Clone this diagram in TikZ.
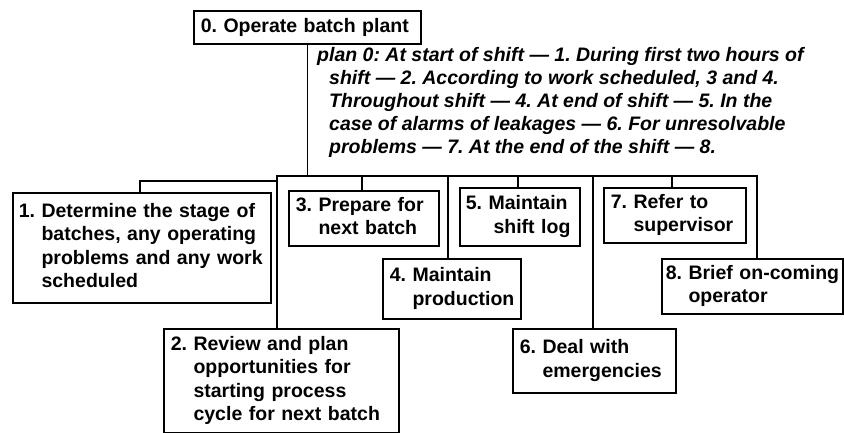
\documentclass[tikz,border=0pt]{standalone}
\usepackage{fontspec}
\setmainfont{Liberation Sans}
\frenchspacing
\newcommand\taskfont{\fontsize{19.5}{23.5}\selectfont\bfseries}
\newcommand\planfont{\fontsize{19.5}{23}\selectfont\bfseries\itshape}
% numbered task text with the continuation lines hung under the first word
\newcommand\tasktext[2]{\begin{tabular}{@{}l@{}l@{}}\mbox{#1.\ } & #2\end{tabular}}
\begin{document}
\begin{tikzpicture}[x=1pt,y=-1pt,
  task/.style={draw, line width=1.6pt, anchor=north west, inner xsep=7pt,
    inner ysep=0pt, font=\taskfont, align=left},
  plantext/.style={anchor=north west, inner sep=0pt, font=\planfont, align=left},
  link/.style={line width=1.6pt, line cap=rect},
]
\useasboundingbox (0,0) rectangle (844,433);

% top task
\node[task, text width=213pt, minimum height=33pt] (b0) at (193,10)
  {0. Operate batch plant};

% plan for the top task
\node[plantext] (plan) at (317,47)
  {plan 0: At start of shift — 1. During first two hours of\\
   \hspace*{12pt}shift — 2. According to work scheduled, 3 and 4.\\
   \hspace*{12pt}Throughout shift — 4. At end of shift — 5. In the\\
   \hspace*{12pt}case of alarms of leakages — 6. For unresolvable\\
   \hspace*{12pt}problems — 7. At the end of the shift — 8.};

% subtasks
\node[task, inner xsep=6pt, text width=246pt, minimum height=110pt] (b1) at (12,192)
  {\tasktext{1}{Determine the stage of\\ & batches, any operating\\ & problems and any work\\ & scheduled}};
\node[task, text width=221pt, minimum height=104pt] (b2) at (163,328)
  {\tasktext{2}{Review and plan\\ & opportunities for\\ & starting process\\ & cycle for next batch}};
\node[task, text width=136pt, minimum height=55pt] (b3) at (288,190)
  {\tasktext{3}{Prepare for\\ & next batch}};
\node[task, text width=124pt, minimum height=60pt] (b4) at (382,258)
  {\tasktext{4}{Maintain\\ & production}};
\node[task, inner xsep=6pt, text width=108pt, minimum height=58pt] (b5) at (459,187)
  {\tasktext{5}{Maintain\\ & \hspace*{5pt}shift log}};
\node[task, text width=149pt, minimum height=64pt] (b6) at (512,328)
  {\tasktext{6}{Deal with\\ & emergencies}};
\node[task, text width=128pt, minimum height=55pt] (b7) at (603,187)
  {\tasktext{7}{Refer to\\ & supervisor}};
\node[task, inner xsep=4pt, text width=173pt, minimum height=55pt] (b8) at (661,258)
  {\tasktext{8}{Brief on-coming\\ & operator}};

% junctions on the connecting lines
\coordinate (busL) at (277,176);
\coordinate (busR) at (757,176);
\coordinate (brL) at (140,181);
\coordinate (brR) at (277,181);
\coordinate (j3) at (362,176);
\coordinate (j4) at (448,176);
\coordinate (j5) at (518,176);
\coordinate (j6) at (593,176);
\coordinate (j7) at (672,176);

% connectors
\draw[link] (b0.south) -- (b0.south |- busL);
\draw[link] (busL |- b2.north) -- (busL) -- (busR) -- (busR |- b8.north);
\draw[link] (b1.north -| brL) -- (brL) -- (brR);
\draw[link] (j3) -- (j3 |- b3.north);
\draw[link] (j4) -- (j4 |- b4.north);
\draw[link] (j5) -- (j5 |- b5.north);
\draw[link] (j6) -- (j6 |- b6.north);
\draw[link] (j7) -- (j7 |- b7.north);
\end{tikzpicture}
\end{document}
